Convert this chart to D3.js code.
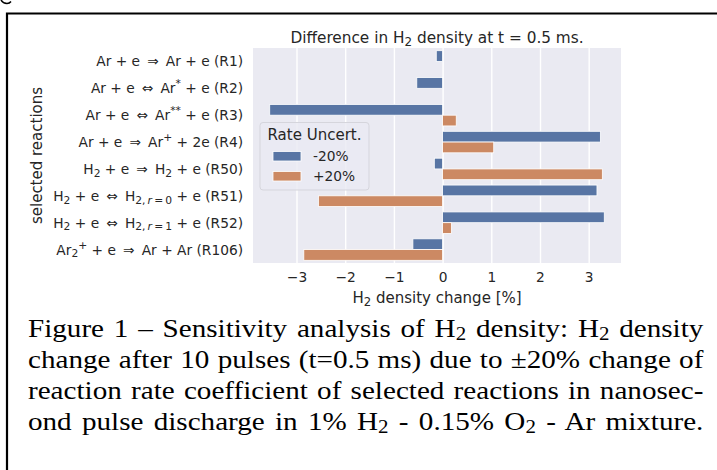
<!DOCTYPE html>
<html>
<head>
<meta charset="utf-8">
<script src="https://cdn.jsdelivr.net/npm/d3@7"></script>
<style>
  body { margin: 0; background: #fff; }
  #wrap { position: relative; width: 717px; height: 470px; overflow: hidden; }
  svg { position: absolute; left: 0; top: 0; }
  .cap { position: absolute; left: 28px; width: 603px; font-family: "Liberation Serif", "Times New Roman", serif;
         font-size: 26px; line-height: 31px; color: #000;
         transform: scaleX(1.12); transform-origin: 0 0; }
  .cap div { text-align: justify; text-align-last: justify; white-space: nowrap; }
  .cap sub { font-size: 0.72em; line-height: 0; vertical-align: -0.18em; }
</style>
</head>
<body>
<div id="wrap"></div>
<script>
// reactions, top to bottom (_{} = subscript, ^{} = superscript, $..$ = italic)
var reactions = [
  "Ar + e \u2009\u21D2\u2009 Ar + e (R1)",
  "Ar + e \u2009\u21D4\u2009 Ar^{*} + e (R2)",
  "Ar + e \u2009\u21D4\u2009 Ar^{**} + e (R3)",
  "Ar + e \u2009\u21D2\u2009 Ar^{+} + 2e (R4)",
  "H_{2} + e \u2009\u21D2\u2009 H_{2} + e (R50)",
  "H_{2} + e \u2009\u21D4\u2009 H_{2,\u2009$r$\u2009=\u20090} + e (R51)",
  "H_{2} + e \u2009\u21D4\u2009 H_{2,\u2009$r$\u2009=\u20091} + e (R52)",
  "Ar_{2}^{+} + e \u2009\u21D2\u2009 Ar + Ar (R106)"
];
var seriesNames = ["-20%", "+20%"];
var minus20 = [-0.13, -0.53, -3.55, 3.24, -0.17, 3.17, 3.32, -0.61];
var plus20  = [0.0, 0.0, 0.28, 1.05, 3.28, -2.55, 0.18, -2.85];
var xTicks = [-3, -2, -1, 0, 1, 2, 3];
var captionLines = [
  "Figure 1 \u2013 Sensitivity analysis of H<sub>2</sub> density: H<sub>2</sub> density",
  "change after 10 pulses (t=0.5 ms) due to \u00B120% change of",
  "reaction rate coefficient of selected reactions in nanosec-",
  "ond pulse discharge in 1% H<sub>2</sub> - 0.15% O<sub>2</sub> - Ar mixture."
];

var colors = ["#5875a4", "#cc8963"];
var textColor = "#262626";
var font = "DejaVu Sans, sans-serif";

var W = 717, H = 470;
var plot = {left: 253, right: 621, top: 48, bottom: 263};

var wrap = d3.select("#wrap");
var svg = wrap.append("svg").attr("width", W).attr("height", H);

// page frame
svg.append("path").attr("d", "M7,470 V13.5 H717")
  .attr("fill", "none").attr("stroke", "#000").attr("stroke-width", 2.2);
svg.append("path").attr("d", "M1,0 Q3,3.5 7,3.5 Q9.5,3.5 11,1.5")
  .attr("fill", "none").attr("stroke", "#000").attr("stroke-width", 1.5);

var all = minus20.concat(plus20);
var ext = d3.extent(all), pad = (ext[1] - ext[0]) * 0.05;
var x = d3.scaleLinear().domain([ext[0] - pad, ext[1] + pad]).range([plot.left, plot.right]);
var y = d3.scaleBand().domain(d3.range(reactions.length)).range([plot.top, plot.bottom]);
var sub = d3.scaleBand().domain([0, 1]).range([0, y.bandwidth() * 0.8]);

svg.append("rect")
  .attr("x", plot.left).attr("y", plot.top)
  .attr("width", plot.right - plot.left).attr("height", plot.bottom - plot.top)
  .attr("fill", "#eaeaf2");

// grid + tick labels
var xAxis = d3.axisBottom(x).tickValues(xTicks).tickSize(-(plot.bottom - plot.top))
  .tickPadding(9).tickFormat(function(d) { return d < 0 ? "\u2212" + Math.abs(d) : d; });
var gx = svg.append("g").attr("transform", "translate(0," + plot.bottom + ")").call(xAxis);
gx.select(".domain").remove();
gx.selectAll("line").attr("stroke", "#fff").attr("stroke-width", 1.4);
gx.selectAll("text").attr("fill", textColor).style("font-family", font).style("font-size", "13.75px");

// bars
var series = [minus20, plus20];
series.forEach(function(vals, s) {
  svg.append("g").selectAll("rect")
    .data(vals)
    .enter()
    .append("rect")
    .attr("x", function(d) { return x(Math.min(0, d)); })
    .attr("width", function(d) { return Math.abs(x(d) - x(0)); })
    .attr("y", function(d, i) { return y(i) + y.bandwidth() * 0.1 + sub(s); })
    .attr("height", sub.bandwidth())
    .attr("fill", colors[s])
    .attr("stroke", "#fff").attr("stroke-width", 0.8);
});

// rich text helper (shifts are in parent em, converted for the smaller tspans)
var SMALL = 0.78;
function richText(sel, str) {
  var parts = str.split(/(_\{[^}]*\}|\^\{[^}]*\})/);
  var level = 0; // current baseline offset in parent em
  parts.forEach(function(p) {
    if (!p) return;
    var want = 0, small = false, body = p;
    if (p[0] === "_") { want = 0.2; small = true; body = p.slice(2, -1); }
    else if (p[0] === "^") { want = -0.42; small = true; body = p.slice(2, -1); }
    var first = true;
    body.split("$").forEach(function(b, k) {
      if (!b) return;
      var t = sel.append("tspan").text(b);
      if (first && want !== level) {
        t.attr("dy", ((want - level) / (small ? SMALL : 1)) + "em");
      }
      first = false;
      if (small) t.style("font-size", (SMALL * 100) + "%");
      if (k % 2 === 1) t.style("font-style", "italic");
    });
    level = want;
  });
}

// y tick labels
svg.append("g").selectAll("text")
  .data(reactions)
  .enter()
  .append("text")
  .attr("x", plot.left - 10)
  .attr("y", function(d, i) { return y(i) + y.bandwidth() / 2; })
  .attr("dy", "0.36em")
  .attr("text-anchor", "end")
  .attr("fill", textColor)
  .style("font-family", font).style("font-size", "13.75px")
  .each(function(d) { richText(d3.select(this), d); });

// title
var title = svg.append("text")
  .attr("x", (plot.left + plot.right) / 2).attr("y", 42.5)
  .attr("text-anchor", "middle").attr("fill", textColor)
  .style("font-family", font).style("font-size", "15.3px");
richText(title, "Difference in H_{2} density at t = 0.5 ms.");

// axis labels
var xl = svg.append("text")
  .attr("x", (plot.left + plot.right) / 2).attr("y", 302.5)
  .attr("text-anchor", "middle").attr("fill", textColor)
  .style("font-family", font).style("font-size", "15px");
richText(xl, "H_{2} density change [%]");

svg.append("text")
  .attr("transform", "translate(42," + ((plot.top + plot.bottom) / 2) + ") rotate(-90)")
  .attr("text-anchor", "middle").attr("fill", textColor)
  .style("font-family", font).style("font-size", "15px")
  .text("selected reactions");

// legend
var lg = svg.append("g").attr("transform", "translate(260,122.5)");
lg.append("rect").attr("width", 109).attr("height", 67.5).attr("rx", 3)
  .attr("fill", "#eaeaf2").attr("fill-opacity", 0.8)
  .attr("stroke", "#d5d5dc").attr("stroke-width", 1);
lg.append("text").attr("x", 54.5).attr("y", 17).attr("text-anchor", "middle")
  .attr("fill", textColor).style("font-family", font).style("font-size", "15px")
  .text("Rate Uncert.");
var items = lg.selectAll(".item").data(seriesNames).enter().append("g")
  .attr("transform", function(d, i) { return "translate(13," + (29 + i * 20) + ")"; });
items.append("rect").attr("width", 28).attr("height", 9.5)
  .attr("fill", function(d, i) { return colors[i]; })
  .attr("stroke", "#fff").attr("stroke-width", 0.8);
items.append("text").attr("x", 40).attr("y", 9.5)
  .attr("fill", textColor).style("font-family", font).style("font-size", "13.75px")
  .text(function(d) { return d; });

// caption
wrap.append("div").attr("class", "cap").style("top", "313px")
  .selectAll("div").data(captionLines).enter().append("div")
  .html(function(d) { return d; });
</script>
</body>
</html>
